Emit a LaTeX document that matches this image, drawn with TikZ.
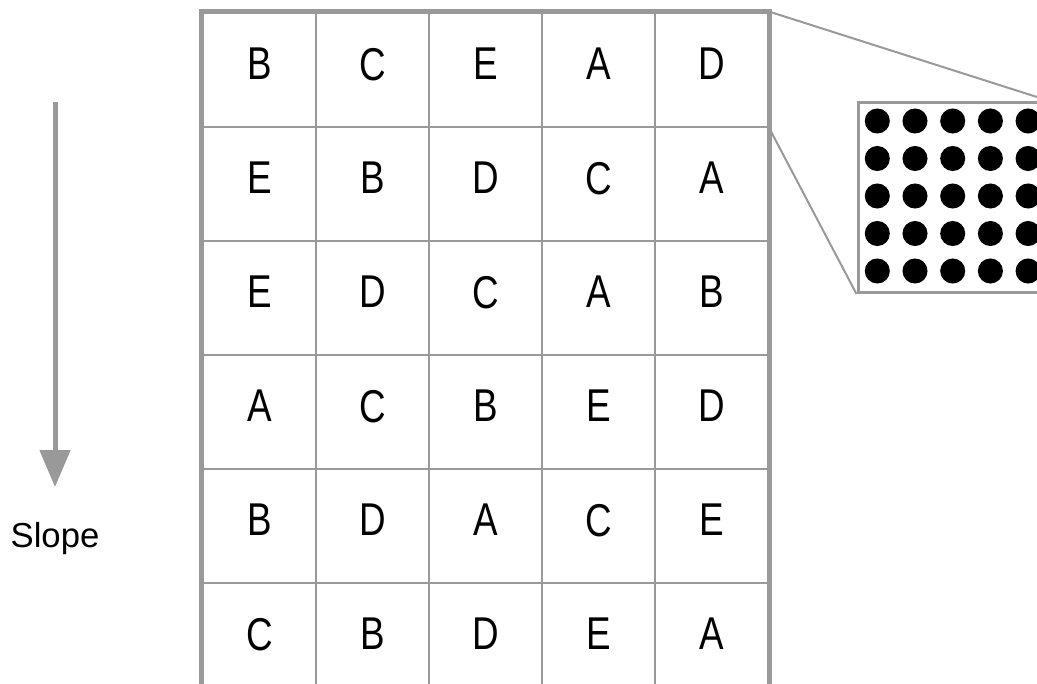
\documentclass[tikz,border=0pt]{standalone}
\usepackage{fontspec}
\setmainfont{Liberation Sans}
\newfontfamily\cellfont[FakeStretch=0.8]{Liberation Sans}
\usetikzlibrary{arrows.meta, positioning}
\definecolor{gridgray}{HTML}{999999}

\begin{document}
\begin{tikzpicture}[
    x=0.75pt, y=-0.75pt,
    cell/.style={rectangle, draw=gridgray, line width=2pt, minimum width=84.75pt, minimum height=85.5pt, inner sep=0pt, text depth=9pt, font=\cellfont\fontsize{34.5}{36}\selectfont},
    frame/.style={draw=gridgray, line width=3.75pt},
    inset/.style={rectangle, draw=gridgray, line width=2.25pt, minimum size=142.5pt, inner sep=0pt, fill=white},
    zoomline/.style={draw=gridgray, line width=1.5pt},
    dot/.style={fill=black},
    slopearrow/.style={-{Triangle[width=22.5pt, length=27.75pt]}, draw=gridgray, fill=gridgray, line width=3.75pt}
]
\useasboundingbox (0,0) rectangle (1037,684);
\clip (0,0) rectangle (1037,684);

% Cells
\foreach \row [count=\r] in {{B,C,E,A,D},{E,B,D,C,A},{E,D,C,A,B},{A,C,B,E,D},{B,D,A,C,E},{C,B,D,E,A}}
  \foreach \letter [count=\c] in \row
    \node[cell] (c-\r-\c) at ({203+113*(\c-0.5)}, {13+114*(\r-0.5)}) {\letter};
\draw[frame] (c-6-1.south west) |- (c-1-5.north east) -- (c-6-5.south east);

% Inset
\node[inset] (inset) at (953,197.5) {};
\foreach \i in {0,...,4}
  \foreach \j in {0,...,4}
    \fill[dot] ({877.3+37.7*\i}, {121+37.5*\j}) circle[radius=9.4pt];

% Slope
\coordinate (arrowtop) at (55,102);
\coordinate (arrowtip) at (55,487);
\draw[slopearrow] (arrowtop) -- (arrowtip);
\node[font=\fontsize{26}{28}\selectfont, anchor=base] (slope) at (55,547) {Slope};

% Connections
\draw[zoomline] (c-1-5.north east) -- (inset.north east);
\draw[zoomline] (c-1-5.south east) -- (inset.south west);

\end{tikzpicture}
\end{document}
